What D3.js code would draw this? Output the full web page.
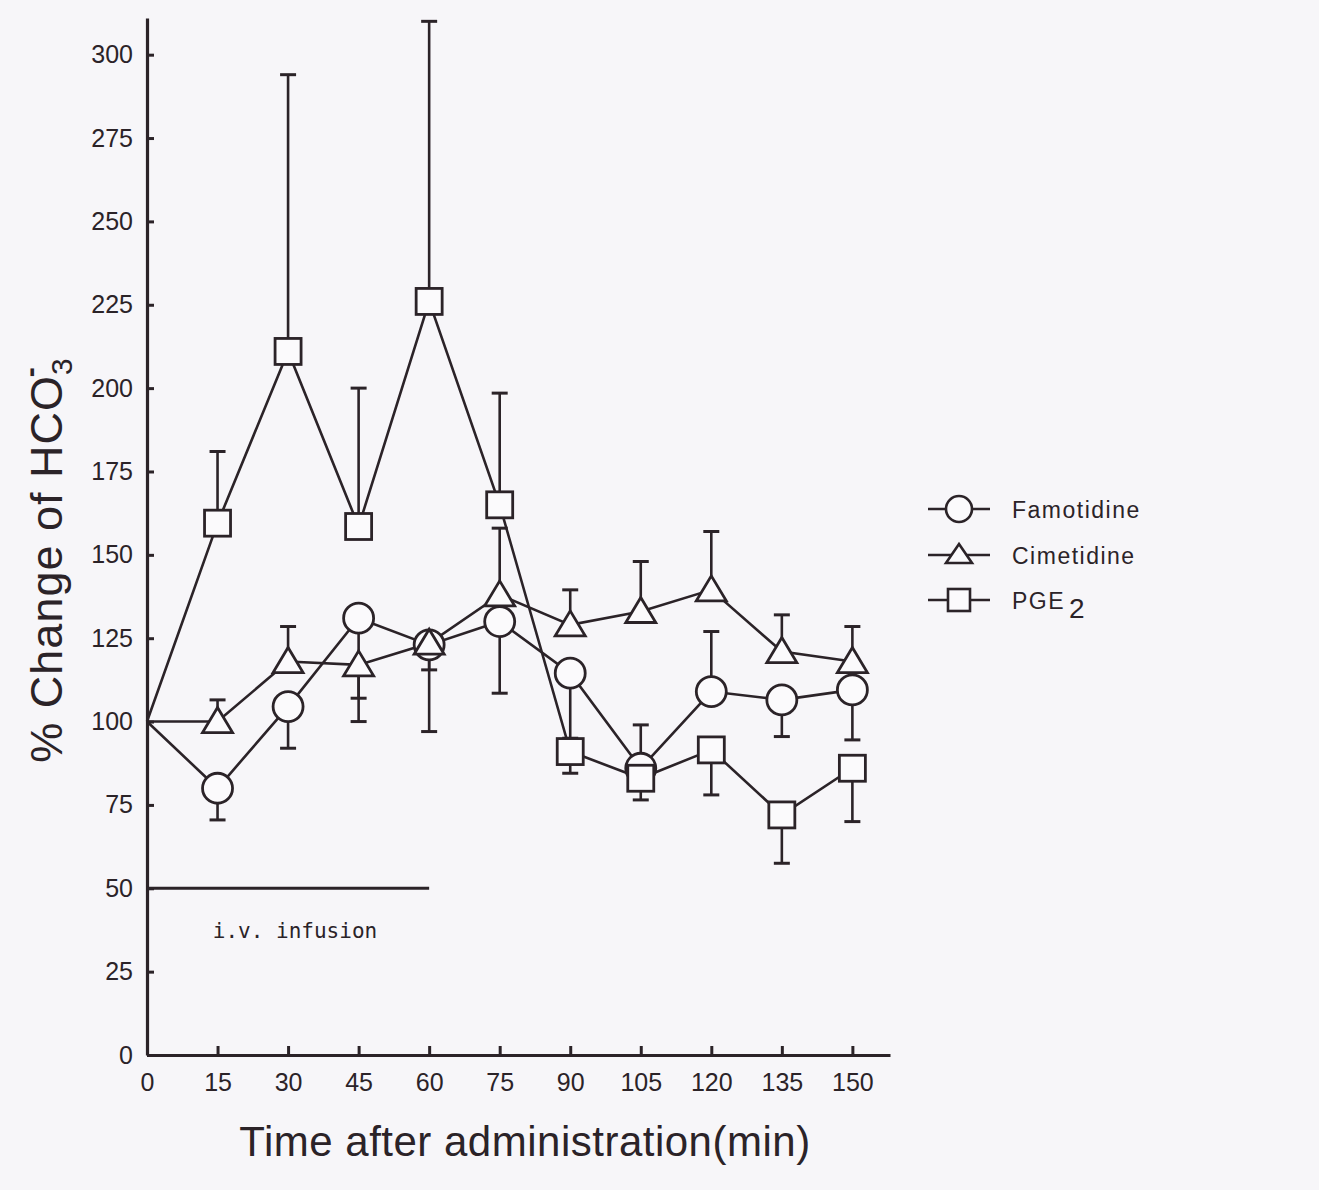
<!DOCTYPE html>
<html>
<head>
<meta charset="utf-8">
<script src="https://cdn.jsdelivr.net/npm/d3@7"></script>
<style>
  body { margin: 0; background: #f7f6f9; }
  svg { display: block; }
  .tick text { font-family: "Liberation Sans", Arial, sans-serif; font-size: 25px; fill: #2b2328; }
</style>
</head>
<body>
<div id="chart"></div>
<script>
// time points (min)
const times = [0, 15, 30, 45, 60, 75, 90, 105, 120, 135, 150];

// mean % change of HCO3-
const famotidine = [100, 80, 104.5, 131, 123, 130, 114.5, 86, 109, 106.5, 109.5];
const cimetidine = [100, 100, 118, 117, 123.5, 138, 129, 133, 139.5, 121, 118];
const pge2       = [100, 159.5, 211, 158.5, 226, 165, 91, 83, 91.5, 72, 86];

// error bar ends (null = no bar), drawn one side only as in the figure
const famotidineErr = [null, 70.5, 92, 100, 97, 108.5, 95, 99, 127, 95.5, 94.5];
const cimetidineErr = [null, 106.5, 128.5, 107, 115.5, 158, 139.5, 148, 157, 132, 128.5];
const pge2Err       = [null, 181, 294, 200, 310, 198.5, 84.5, 76.5, 78, 57.5, 70];

const xTicks = [0, 15, 30, 45, 60, 75, 90, 105, 120, 135, 150];
const yTicks = [0, 25, 50, 75, 100, 125, 150, 175, 200, 225, 250, 275, 300];

const infusion = [0, 60];   // i.v. infusion period (min)
const infusionLevel = 50;

const seriesNames = ["Famotidine", "Cimetidine", "PGE2"];

const ink = "#2b2328";
const W = 1319, H = 1190;

const svg = d3.select("#chart").append("svg")
    .attr("width", W)
    .attr("height", H);

const x = d3.scaleLinear().domain([0, 158]).range([147, 890]);
const y = d3.scaleLinear().domain([0, 311]).range([1055, 18]);

// axes
const yAxis = d3.axisLeft(y).tickValues(yTicks).tickSizeInner(-7).tickSizeOuter(0).tickPadding(14);
const xAxis = d3.axisBottom(x).tickValues(xTicks).tickSizeInner(-9).tickSizeOuter(0).tickPadding(18);

const gy = svg.append("g")
    .attr("class", "y-axis")
    .attr("transform", `translate(${x(0)},0)`)
    .call(yAxis);
const gx = svg.append("g")
    .attr("class", "x-axis")
    .attr("transform", `translate(0,${y(0)})`)
    .call(xAxis);

[gx, gy].forEach(g => {
    g.select(".domain").attr("stroke", ink).attr("stroke-width", 3.2);
    g.selectAll(".tick line").attr("stroke", ink).attr("stroke-width", 3);
});

// axis titles
svg.append("text")
    .attr("x", 525)
    .attr("y", 1156)
    .attr("text-anchor", "middle")
    .attr("font-family", "Liberation Sans, Arial, sans-serif")
    .attr("font-size", 42)
    .attr("letter-spacing", 0.5)
    .attr("fill", ink)
    .text("Time after administration(min)");

const ylab = svg.append("text")
    .attr("transform", `translate(62,${560}) rotate(-90)`)
    .attr("text-anchor", "middle")
    .attr("font-family", "Liberation Sans, Arial, sans-serif")
    .attr("font-size", 45)
    .attr("letter-spacing", 1)
    .attr("fill", ink);
ylab.append("tspan").text("% Change of HCO");
ylab.append("tspan").attr("dy", 10).attr("font-size", 30).text("3");
ylab.append("tspan").attr("dx", -20).attr("dy", -32).attr("font-size", 30).attr("font-weight", "bold").text("-");

// i.v. infusion bar
svg.append("line")
    .attr("x1", x(infusion[0])).attr("x2", x(infusion[1]))
    .attr("y1", y(infusionLevel)).attr("y2", y(infusionLevel))
    .attr("stroke", ink).attr("stroke-width", 3);
svg.append("text")
    .attr("x", x(14))
    .attr("y", y(infusionLevel) + 50)
    .attr("font-family", "DejaVu Sans Mono, Liberation Mono, monospace")
    .attr("font-size", 21)
    .attr("fill", ink)
    .text("i.v. infusion");

const series = [
    {name: seriesNames[0], values: famotidine, err: famotidineErr, shape: "circle"},
    {name: seriesNames[1], values: cimetidine, err: cimetidineErr, shape: "triangle"},
    {name: seriesNames[2], values: pge2, err: pge2Err, shape: "square"}
];

const line = d3.line()
    .x((d, i) => x(times[i]))
    .y(d => y(d));

// error bars
series.forEach(s => {
    const g = svg.append("g").attr("class", "err");
    s.err.forEach((e, i) => {
        if (e === null) return;
        g.append("line")
            .attr("x1", x(times[i])).attr("x2", x(times[i]))
            .attr("y1", y(s.values[i])).attr("y2", y(e))
            .attr("stroke", ink).attr("stroke-width", 2.6);
        g.append("line")
            .attr("x1", x(times[i]) - 8).attr("x2", x(times[i]) + 8)
            .attr("y1", y(e)).attr("y2", y(e))
            .attr("stroke", ink).attr("stroke-width", 3);
    });
});

// lines
series.forEach(s => {
    svg.append("path")
        .datum(s.values)
        .attr("fill", "none")
        .attr("stroke", ink)
        .attr("stroke-width", 2.6)
        .attr("d", line);
});

function drawMarker(g, shape, cx, cy) {
    if (shape === "circle") {
        g.append("circle").attr("cx", cx).attr("cy", cy).attr("r", 15);
    } else if (shape === "triangle") {
        g.append("path").attr("d", `M${cx},${cy - 14}L${cx + 15},${cy + 11}L${cx - 15},${cy + 11}Z`);
    } else {
        g.append("rect").attr("x", cx - 13).attr("y", cy - 13).attr("width", 26).attr("height", 26);
    }
}

// markers (skip the shared t = 0 point)
series.forEach(s => {
    const g = svg.append("g")
        .attr("fill", "#fbfafc")
        .attr("stroke", ink)
        .attr("stroke-width", 2.8);
    s.values.forEach((v, i) => {
        if (i === 0) return;
        drawMarker(g, s.shape, x(times[i]), y(v));
    });
});

// legend
const legend = svg.append("g").attr("class", "legend");
const legendY = [509, 555, 600];
series.forEach((s, i) => {
    const ly = legendY[i];
    legend.append("line")
        .attr("x1", 928).attr("x2", 990)
        .attr("y1", ly).attr("y2", ly)
        .attr("stroke", ink).attr("stroke-width", 2.6);
    const g = legend.append("g")
        .attr("fill", "#fbfafc")
        .attr("stroke", ink)
        .attr("stroke-width", 2.6);
    if (s.shape === "circle") g.append("circle").attr("cx", 959).attr("cy", ly).attr("r", 13);
    else if (s.shape === "triangle") g.append("path").attr("d", `M959,${ly - 11}L972,${ly + 8}L946,${ly + 8}Z`);
    else g.append("rect").attr("x", 948).attr("y", ly - 11).attr("width", 22).attr("height", 22);

    const t = legend.append("text")
        .attr("x", 1012)
        .attr("y", ly + 9)
        .attr("font-family", "Liberation Sans, Arial, sans-serif")
        .attr("font-size", 23)
        .attr("letter-spacing", 1.5)
        .attr("fill", ink);
    if (s.name === "PGE2") {
        t.append("tspan").text("PGE");
        t.append("tspan").attr("dx", 4).attr("dy", 9).attr("font-size", 28).text("2");
    } else {
        t.text(s.name);
    }
});
</script>
</body>
</html>
